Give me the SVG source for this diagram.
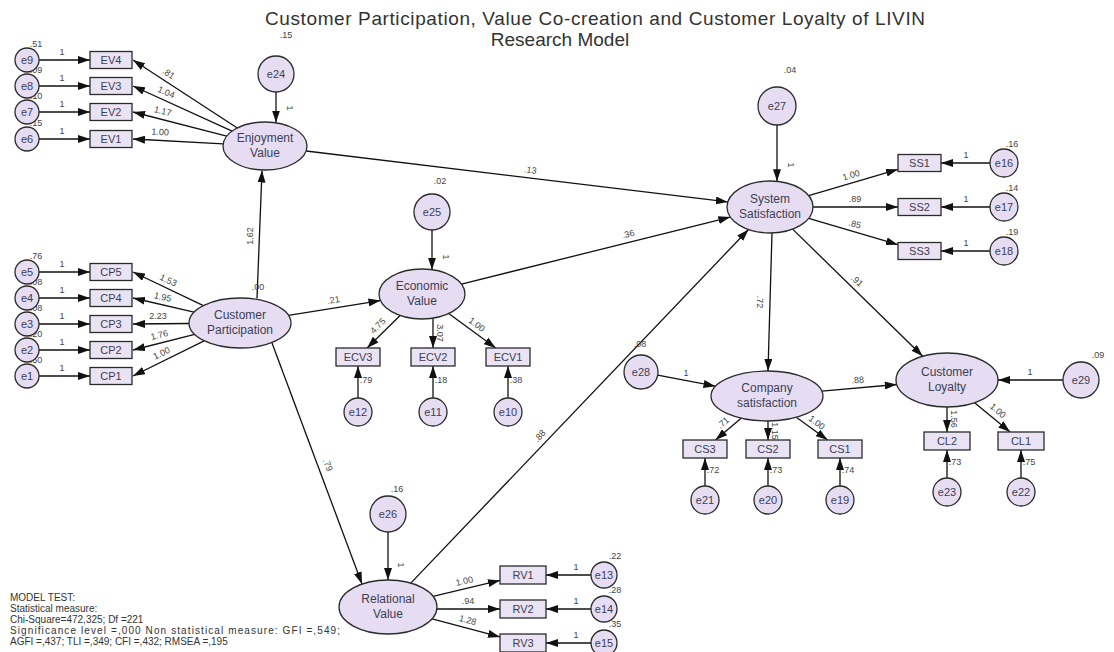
<svg xmlns="http://www.w3.org/2000/svg" width="1114" height="652" viewBox="0 0 1114 652">
<defs>
<marker id="ah" markerUnits="userSpaceOnUse" markerWidth="12" markerHeight="8" refX="12" refY="4" orient="auto"><path d="M0,0 L12,4 L0,8 z" fill="#111"/></marker>
<style>
.lat{fill:#E6DDF2;stroke:#2b2b2b;stroke-width:1.3}
.err{fill:#E6DDF2;stroke:#2b2b2b;stroke-width:1.3}
.box{fill:#E9E3F3;stroke:#2b2b2b;stroke-width:1.3}
.t{font-family:"Liberation Sans",Arial,sans-serif;font-size:12px;fill:#3d3d55;text-anchor:middle}
.te{font-family:"Liberation Sans",Arial,sans-serif;font-size:11px;fill:#3d3d55;text-anchor:middle}
.n{font-family:"Liberation Sans",Arial,sans-serif;font-size:9px;fill:#444;text-anchor:middle}
.ttl{font-family:"Liberation Sans",Arial,sans-serif;font-size:19px;fill:#333;text-anchor:middle}
.mt{font-family:"Liberation Sans",Arial,sans-serif;font-size:10px;fill:#333}
.c line{stroke:#111;stroke-width:1.3;marker-end:url(#ah)}
</style>
</defs>
<rect width="1114" height="652" fill="#fff"/>
<text class="ttl" x="595" y="25" textLength="660">Customer Participation, Value Co-creation and Customer Loyalty of LIVIN</text>
<text class="ttl" x="560" y="46">Research Model</text>

<g id="connectors" class="c">
<line x1="39" y1="60" x2="90" y2="60"/><line x1="39" y1="86" x2="90" y2="86"/><line x1="39" y1="112" x2="90" y2="112"/><line x1="39" y1="139" x2="90" y2="139"/>
<line x1="237.3" y1="128" x2="133" y2="60"/><line x1="232.1" y1="131.1" x2="133" y2="86"/><line x1="226.7" y1="136.1" x2="133" y2="112"/><line x1="223.2" y1="143.8" x2="133" y2="139"/>
<line x1="276" y1="92" x2="276" y2="122.5"/>
<line x1="39" y1="272" x2="90" y2="272"/><line x1="39" y1="298" x2="90" y2="298"/><line x1="39" y1="324" x2="90" y2="324"/><line x1="39" y1="350" x2="90" y2="350"/><line x1="39" y1="376" x2="90" y2="376"/>
<line x1="203.4" y1="305.6" x2="133" y2="272"/><line x1="194" y1="312.2" x2="133" y2="298"/><line x1="189" y1="323.5" x2="133" y2="324"/><line x1="194.7" y1="334.4" x2="133" y2="350"/><line x1="204.1" y1="340.8" x2="133" y2="376"/>
<line x1="257" y1="298.5" x2="262" y2="170.5"/>
<line x1="288.5" y1="315.3" x2="380.5" y2="300.6"/>
<line x1="272" y1="343" x2="362" y2="584"/>
<line x1="432" y1="230" x2="432" y2="269.7"/>
<line x1="400.1" y1="315.5" x2="367.1" y2="348"/><line x1="433" y1="318.2" x2="433" y2="348"/><line x1="448.7" y1="313.6" x2="495.7" y2="348"/>
<line x1="358" y1="398" x2="358" y2="366"/><line x1="433" y1="398" x2="433" y2="366"/><line x1="508" y1="398" x2="508" y2="366"/>
<line x1="461.5" y1="284.1" x2="730.3" y2="217.1"/>
<line x1="306.1" y1="151" x2="727.8" y2="201.9"/>
<line x1="410.8" y1="583.1" x2="748.5" y2="229.5"/>
<line x1="777" y1="125" x2="777" y2="181.3"/>
<line x1="808.7" y1="195.6" x2="898" y2="169.3"/><line x1="813" y1="207" x2="898" y2="207"/><line x1="808.7" y1="218.4" x2="898" y2="244.7"/>
<line x1="990" y1="163" x2="941" y2="163"/><line x1="990" y1="207" x2="941" y2="207"/><line x1="990" y1="251" x2="941" y2="251"/>
<line x1="772" y1="233" x2="768" y2="371"/>
<line x1="792.6" y1="229.1" x2="922.7" y2="356.3"/>
<line x1="657.7" y1="375.2" x2="715.5" y2="386.2"/>
<line x1="821.9" y1="391.1" x2="896.7" y2="384.5"/>
<line x1="1063" y1="380" x2="998" y2="380"/>
<line x1="741.1" y1="418.2" x2="715.5" y2="440"/><line x1="768" y1="421" x2="768" y2="440"/><line x1="796.3" y1="417.3" x2="827.6" y2="440"/>
<line x1="705" y1="486" x2="705" y2="458"/><line x1="768" y1="486" x2="768" y2="458"/><line x1="840" y1="486" x2="840" y2="458"/>
<line x1="947" y1="407" x2="947" y2="432"/><line x1="974.6" y1="402.7" x2="1010.1" y2="432"/>
<line x1="947" y1="478" x2="947" y2="450"/><line x1="1021" y1="478" x2="1021" y2="450"/>
<line x1="388" y1="532" x2="388" y2="580"/>
<line x1="433" y1="596.3" x2="500" y2="580.4"/><line x1="437" y1="609" x2="500" y2="609"/><line x1="432.1" y1="618.8" x2="500" y2="636.9"/>
<line x1="591" y1="575" x2="546" y2="575"/><line x1="591" y1="609" x2="546" y2="609"/><line x1="591" y1="643" x2="546" y2="643"/>
</g>

<g id="path-labels">
<text class="n" x="62" y="55">1</text><text class="n" x="62" y="81">1</text><text class="n" x="62" y="107">1</text><text class="n" x="62" y="134">1</text>
<text class="n" transform="translate(167,76) rotate(33)">.81</text>
<text class="n" transform="translate(165,95) rotate(24)">1.04</text>
<text class="n" transform="translate(162,114) rotate(14)">1.17</text>
<text class="n" transform="translate(160,135) rotate(3)">1.00</text>
<text class="n" transform="translate(287,108) rotate(90)">1</text>
<text class="n" x="62" y="267">1</text><text class="n" x="62" y="293">1</text><text class="n" x="62" y="319">1</text><text class="n" x="62" y="345">1</text><text class="n" x="62" y="371">1</text>
<text class="n" transform="translate(167,283) rotate(25)">1.53</text>
<text class="n" transform="translate(162,300) rotate(13)">1.95</text>
<text class="n" transform="translate(158,319)">2.23</text>
<text class="n" transform="translate(160,338) rotate(-14)">1.76</text>
<text class="n" transform="translate(163,356) rotate(-26)">1.00</text>
<text class="n" transform="translate(253,236) rotate(-90)">1.62</text>
<text class="n" transform="translate(334,303) rotate(-9)">.21</text>
<text class="n" transform="translate(325,466) rotate(69)">.79</text>
<text class="n" transform="translate(443,257) rotate(90)">1</text>
<text class="n" transform="translate(380,328) rotate(-45)">4.75</text>
<text class="n" transform="translate(437,333) rotate(90)">3.07</text>
<text class="n" transform="translate(475,327) rotate(36)">1.00</text>
<text class="n" x="366" y="383">.79</text><text class="n" x="441" y="383">.18</text><text class="n" x="516" y="383">.38</text>
<text class="n" transform="translate(629,237) rotate(-14)">.36</text>
<text class="n" transform="translate(530,173) rotate(7)">.13</text>
<text class="n" transform="translate(542,438) rotate(-46)">.88</text>
<text class="n" transform="translate(788,165) rotate(90)">1</text>
<text class="n" transform="translate(852,178) rotate(-16)">1.00</text>
<text class="n" x="855" y="202">.89</text>
<text class="n" transform="translate(854,227) rotate(16)">.85</text>
<text class="n" x="966" y="158">1</text><text class="n" x="966" y="202">1</text><text class="n" x="966" y="246">1</text>
<text class="n" transform="translate(757,302) rotate(90)">.72</text>
<text class="n" transform="translate(855,283) rotate(44)">.91</text>
<text class="n" x="686" y="376">1</text>
<text class="n" transform="translate(858,383) rotate(-5)">.88</text>
<text class="n" x="1030" y="375">1</text>
<text class="n" transform="translate(725,425) rotate(-40)">.71</text>
<text class="n" transform="translate(772,431) rotate(90)">1.15</text>
<text class="n" transform="translate(815,425) rotate(36)">1.00</text>
<text class="n" x="713" y="473">.72</text><text class="n" x="776" y="473">.73</text><text class="n" x="848" y="473">.74</text>
<text class="n" transform="translate(951,419) rotate(90)">1.56</text>
<text class="n" transform="translate(996,413) rotate(40)">1.00</text>
<text class="n" x="955" y="465">.73</text><text class="n" x="1029" y="465">.75</text>
<text class="n" transform="translate(398,565) rotate(90)">1</text>
<text class="n" transform="translate(465,584) rotate(-13)">1.00</text>
<text class="n" x="468" y="604">.94</text>
<text class="n" transform="translate(467,623) rotate(15)">1.28</text>
<text class="n" x="576" y="570">1</text><text class="n" x="576" y="604">1</text><text class="n" x="576" y="638">1</text>
</g>

<g id="variances">
<text class="n" x="286" y="38">.15</text>
<text class="n" x="36" y="47">.51</text><text class="n" x="36" y="73">.09</text><text class="n" x="36" y="99">.10</text><text class="n" x="36" y="126">.15</text>
<text class="n" x="36" y="259">.76</text><text class="n" x="36" y="285">.08</text><text class="n" x="36" y="311">.08</text><text class="n" x="36" y="337">.20</text><text class="n" x="36" y="363">.50</text>
<text class="n" x="258" y="290">.00</text>
<text class="n" x="440" y="184">.02</text>
<text class="n" x="790" y="73">.04</text>
<text class="n" x="1012" y="147">.16</text><text class="n" x="1012" y="191">.14</text><text class="n" x="1012" y="235">.19</text>
<text class="n" x="640" y="347">.08</text>
<text class="n" x="1098" y="358">.09</text>
<text class="n" x="397" y="492">.16</text>
<text class="n" x="615" y="559">.22</text><text class="n" x="615" y="593">.28</text><text class="n" x="615" y="627">.35</text>
</g>

<g id="EN"><ellipse class="lat" cx="265" cy="146" rx="42" ry="24"/><text class="t" x="265" y="142">Enjoyment</text><text class="t" x="265" y="157">Value</text></g>
<g id="e24"><circle class="err" cx="276" cy="74" r="18"/><text class="te" x="276" y="78">e24</text></g>
<g id="EV4"><rect class="box" x="90" y="51.5" width="42" height="17"/><text class="te" x="111" y="64">EV4</text></g>
<g id="EV3"><rect class="box" x="90" y="77.5" width="42" height="17"/><text class="te" x="111" y="90">EV3</text></g>
<g id="EV2"><rect class="box" x="90" y="103.5" width="42" height="17"/><text class="te" x="111" y="116">EV2</text></g>
<g id="EV1"><rect class="box" x="90" y="130.5" width="42" height="17"/><text class="te" x="111" y="143">EV1</text></g>
<g id="e9"><circle class="err" cx="27" cy="60" r="12"/><text class="te" x="27" y="64">e9</text></g>
<g id="e8"><circle class="err" cx="27" cy="86" r="12"/><text class="te" x="27" y="90">e8</text></g>
<g id="e7"><circle class="err" cx="27" cy="112" r="12"/><text class="te" x="27" y="116">e7</text></g>
<g id="e6"><circle class="err" cx="27" cy="139" r="12"/><text class="te" x="27" y="143">e6</text></g>

<g id="CP"><ellipse class="lat" cx="240" cy="323" rx="51" ry="25"/><text class="t" x="240" y="319">Customer</text><text class="t" x="240" y="334">Participation</text></g>
<g id="CP5"><rect class="box" x="90" y="263.5" width="42" height="17"/><text class="te" x="111" y="276">CP5</text></g>
<g id="CP4"><rect class="box" x="90" y="289.5" width="42" height="17"/><text class="te" x="111" y="302">CP4</text></g>
<g id="CP3"><rect class="box" x="90" y="315.5" width="42" height="17"/><text class="te" x="111" y="328">CP3</text></g>
<g id="CP2"><rect class="box" x="90" y="341.5" width="42" height="17"/><text class="te" x="111" y="354">CP2</text></g>
<g id="CP1"><rect class="box" x="90" y="367.5" width="42" height="17"/><text class="te" x="111" y="380">CP1</text></g>
<g id="e5"><circle class="err" cx="27" cy="272" r="12"/><text class="te" x="27" y="276">e5</text></g>
<g id="e4"><circle class="err" cx="27" cy="298" r="12"/><text class="te" x="27" y="302">e4</text></g>
<g id="e3"><circle class="err" cx="27" cy="324" r="12"/><text class="te" x="27" y="328">e3</text></g>
<g id="e2"><circle class="err" cx="27" cy="350" r="12"/><text class="te" x="27" y="354">e2</text></g>
<g id="e1"><circle class="err" cx="27" cy="376" r="12"/><text class="te" x="27" y="380">e1</text></g>

<g id="EC"><ellipse class="lat" cx="422" cy="294" rx="43" ry="25"/><text class="t" x="422" y="290">Economic</text><text class="t" x="422" y="305">Value</text></g>
<g id="e25"><circle class="err" cx="432" cy="212" r="18"/><text class="te" x="432" y="216">e25</text></g>
<g id="ECV3"><rect class="box" x="336" y="348" width="44" height="18"/><text class="te" x="358" y="361">ECV3</text></g>
<g id="ECV2"><rect class="box" x="411" y="348" width="44" height="18"/><text class="te" x="433" y="361">ECV2</text></g>
<g id="ECV1"><rect class="box" x="486" y="348" width="44" height="18"/><text class="te" x="508" y="361">ECV1</text></g>
<g id="e12"><circle class="err" cx="358" cy="412" r="14"/><text class="te" x="358" y="416">e12</text></g>
<g id="e11"><circle class="err" cx="433" cy="412" r="14"/><text class="te" x="433" y="416">e11</text></g>
<g id="e10"><circle class="err" cx="508" cy="412" r="14"/><text class="te" x="508" y="416">e10</text></g>

<g id="RE"><ellipse class="lat" cx="388" cy="607" rx="49" ry="27"/><text class="t" x="388" y="603">Relational</text><text class="t" x="388" y="618">Value</text></g>
<g id="e26"><circle class="err" cx="388" cy="514" r="18"/><text class="te" x="388" y="518">e26</text></g>
<g id="RV1"><rect class="box" x="500" y="566" width="46" height="18"/><text class="te" x="523" y="579">RV1</text></g>
<g id="RV2"><rect class="box" x="500" y="600" width="46" height="18"/><text class="te" x="523" y="613">RV2</text></g>
<g id="RV3"><rect class="box" x="500" y="634" width="46" height="18"/><text class="te" x="523" y="647">RV3</text></g>
<g id="e13"><circle class="err" cx="604" cy="575" r="13"/><text class="te" x="604" y="579">e13</text></g>
<g id="e14"><circle class="err" cx="604" cy="609" r="13"/><text class="te" x="604" y="613">e14</text></g>
<g id="e15"><circle class="err" cx="604" cy="643" r="13"/><text class="te" x="604" y="647">e15</text></g>

<g id="SS"><ellipse class="lat" cx="770" cy="207" rx="43" ry="26"/><text class="t" x="770" y="203">System</text><text class="t" x="770" y="218">Satisfaction</text></g>
<g id="e27"><circle class="err" cx="777" cy="106" r="19"/><text class="te" x="777" y="110">e27</text></g>
<g id="SS1"><rect class="box" x="898" y="154.5" width="43" height="17"/><text class="te" x="919.5" y="167">SS1</text></g>
<g id="SS2"><rect class="box" x="898" y="198.5" width="43" height="17"/><text class="te" x="919.5" y="211">SS2</text></g>
<g id="SS3"><rect class="box" x="898" y="242.5" width="43" height="17"/><text class="te" x="919.5" y="255">SS3</text></g>
<g id="e16"><circle class="err" cx="1004" cy="163" r="14"/><text class="te" x="1004" y="167">e16</text></g>
<g id="e17"><circle class="err" cx="1004" cy="207" r="14"/><text class="te" x="1004" y="211">e17</text></g>
<g id="e18"><circle class="err" cx="1004" cy="251" r="14"/><text class="te" x="1004" y="255">e18</text></g>

<g id="CO"><ellipse class="lat" cx="767" cy="396" rx="56" ry="25"/><text class="t" x="767" y="392">Company</text><text class="t" x="767" y="407">satisfaction</text></g>
<g id="e28"><circle class="err" cx="641" cy="372" r="17"/><text class="te" x="641" y="376">e28</text></g>
<g id="CS3"><rect class="box" x="683" y="440" width="44" height="18"/><text class="te" x="705" y="453">CS3</text></g>
<g id="CS2"><rect class="box" x="746" y="440" width="44" height="18"/><text class="te" x="768" y="453">CS2</text></g>
<g id="CS1"><rect class="box" x="818" y="440" width="44" height="18"/><text class="te" x="840" y="453">CS1</text></g>
<g id="e21"><circle class="err" cx="705" cy="500" r="14"/><text class="te" x="705" y="504">e21</text></g>
<g id="e20"><circle class="err" cx="768" cy="500" r="14"/><text class="te" x="768" y="504">e20</text></g>
<g id="e19"><circle class="err" cx="840" cy="500" r="14"/><text class="te" x="840" y="504">e19</text></g>

<g id="CL"><ellipse class="lat" cx="947" cy="380" rx="51" ry="27"/><text class="t" x="947" y="376">Customer</text><text class="t" x="947" y="391">Loyalty</text></g>
<g id="e29"><circle class="err" cx="1081" cy="380" r="18"/><text class="te" x="1081" y="384">e29</text></g>
<g id="CL2"><rect class="box" x="924" y="432" width="46" height="18"/><text class="te" x="947" y="445">CL2</text></g>
<g id="CL1"><rect class="box" x="998" y="432" width="46" height="18"/><text class="te" x="1021" y="445">CL1</text></g>
<g id="e23"><circle class="err" cx="947" cy="492" r="14"/><text class="te" x="947" y="496">e23</text></g>
<g id="e22"><circle class="err" cx="1021" cy="492" r="14"/><text class="te" x="1021" y="496">e22</text></g>

<g id="model-test">
<text class="mt" x="10" y="601">MODEL TEST:</text>
<text class="mt" x="10" y="612">Statistical measure:</text>
<text class="mt" x="10" y="623">Chi-Square=472,325; Df =221</text>
<text class="mt" x="10" y="634" textLength="330">Significance level =,000 Non statistical measure: GFI =,549;</text>
<text class="mt" x="10" y="645">AGFI =,437; TLI =,349; CFI =,432; RMSEA =,195</text>
</g>
</svg>
